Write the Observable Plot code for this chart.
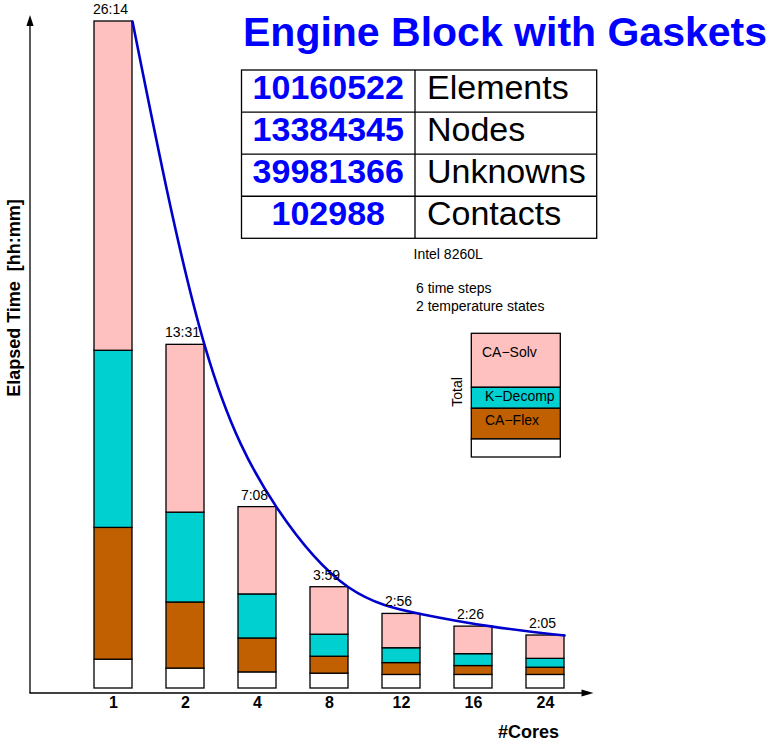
<!DOCTYPE html>
<html>
<head>
<meta charset="utf-8">
<script src="https://cdn.jsdelivr.net/npm/d3@7"></script>
<script src="https://cdn.jsdelivr.net/npm/@observablehq/plot@0.6"></script>
<style>
  html, body { margin: 0; padding: 0; background: #fff; }
  svg text { font-family: "Liberation Sans", Arial, Helvetica, sans-serif; }
</style>
</head>
<body>
<div id="chart"></div>
<script>
// ---------- data ----------
const cores = ["1", "2", "4", "8", "12", "16", "24"];
const totalLabels = ["26:14", "13:31", "7:08", "3:59", "2:56", "2:26", "2:05"];
// minutes per segment
const otherMin  = [68, 47, 38, 35, 32, 32, 32];
const flexMin   = [311, 156, 80, 40, 28, 21, 17];
const decompMin = [418, 212, 104, 52, 35, 28, 21];
const solvMin   = [777, 396, 206, 112, 81, 65, 55];
const parts = ["Other", "CA\u2212Flex", "K\u2212Decomp", "CA\u2212Solv"];
const partColors = ["#ffffff", "#c06000", "#00d0d0", "#ffc0c0"];
const tableNumbers = ["10160522", "13384345", "39981366", "102988"];
const tableNames = ["Elements", "Nodes", "Unknowns", "Contacts"];
const machine = "Intel 8260L";
const notes = ["6 time steps", "2 temperature states"];
const titleText = "Engine Block with Gaskets";
const yLabel = "Elapsed Time  [hh:mm]";
const xLabel = "#Cores";

// ---------- derived tables ----------
const series = [otherMin, flexMin, decompMin, solvMin];
const rows = [];
cores.forEach((c, i) => parts.forEach((p, k) => rows.push({cores: c, part: p, minutes: series[k][i]})));
const totals = cores.map((c, i) => ({
  cores: c,
  total: series.reduce((s, a) => s + a[i], 0),
  label: totalLabels[i]
}));

// ---------- layout ----------
const W = 770, H = 741;
const FONT = '"Liberation Sans", Arial, Helvetica, sans-serif';
const xStart = 75.8, xEnd = 582.7;
const padIn = 0.475;
const step = (xEnd - xStart) / cores.length;
const bw = step * (1 - padIn);

const plot = Plot.plot({
  width: W,
  height: H,
  marginTop: 21,
  marginBottom: 53,
  marginLeft: xStart,
  marginRight: W - xEnd,
  style: {fontFamily: FONT, background: "white", color: "black", overflow: "visible"},
  x: {type: "band", domain: cores, paddingInner: padIn, paddingOuter: padIn / 2, align: 0.5, axis: null},
  y: {domain: [0, 1574], axis: null},
  color: {domain: parts, range: partColors},
  marks: [
    Plot.barY(rows, {x: "cores", y: "minutes", fill: "part", stroke: "black", strokeWidth: 1.3}),
    Plot.line(totals, {x: "cores", y: "total", curve: "natural", stroke: "#0000cc", strokeWidth: 2.6, dx: bw / 2}),
    Plot.text(totals, {x: "cores", y: "total", text: "label", dy: -12, dx: -3, fontSize: 14, fill: "black"}),
    Plot.text(cores, {x: d => d, frameAnchor: "bottom", dy: 19.2, text: d => d, fontSize: 16, fontWeight: "bold", fill: "black"})
  ]
});
document.getElementById("chart").appendChild(plot);

// ---------- decorations ----------
const svg = d3.select(plot);
const g = svg.append("g").attr("font-family", FONT).attr("text-anchor", "start");

// axes with arrows
const axisY = 693, axisX = 30;
g.append("line").attr("x1", axisX).attr("x2", axisX).attr("y1", axisY).attr("y2", 24)
  .attr("stroke", "black").attr("stroke-width", 1.3);
g.append("path").attr("d", `M${axisX},15 L${axisX - 3.6},26 L${axisX + 3.6},26 Z`).attr("fill", "black");
g.append("line").attr("x1", axisX - 0.6).attr("x2", 584).attr("y1", axisY).attr("y2", axisY)
  .attr("stroke", "black").attr("stroke-width", 1.3);
g.append("path").attr("d", `M593.5,${axisY} L581.5,${axisY - 3.6} L581.5,${axisY + 3.6} Z`).attr("fill", "black");

// axis labels
g.append("text").attr("transform", "translate(20,298) rotate(-90)")
  .attr("text-anchor", "middle").attr("font-size", 18).attr("font-weight", "bold").text(yLabel);
g.append("text").attr("x", 528.5).attr("y", 737.5)
  .attr("text-anchor", "middle").attr("font-size", 18).attr("font-weight", "bold").text(xLabel);

// title
g.append("text").attr("x", 243).attr("y", 45.7).attr("font-size", 41).attr("font-weight", "bold")
  .attr("text-anchor", "start").attr("fill", "#0000ff").text(titleText);

// table
const tL = 241.5, tM = 415, tR = 596.7, tT = 70, tB = 238.3;
const rowH = (tB - tT) / tableNumbers.length;
g.append("rect").attr("x", tL).attr("y", tT).attr("width", tR - tL).attr("height", tB - tT)
  .attr("fill", "none").attr("stroke", "black").attr("stroke-width", 1.3);
g.append("line").attr("x1", tM).attr("x2", tM).attr("y1", tT).attr("y2", tB)
  .attr("stroke", "black").attr("stroke-width", 1.3);
tableNumbers.forEach((n, i) => {
  const top = tT + i * rowH;
  if (i > 0) g.append("line").attr("x1", tL).attr("x2", tR).attr("y1", top).attr("y2", top)
    .attr("stroke", "black").attr("stroke-width", 1.3);
  g.append("text").attr("x", (tL + tM) / 2).attr("y", top + 28.5).attr("text-anchor", "middle")
    .attr("font-size", 34).attr("font-weight", "bold").attr("fill", "#0000ff").text(n);
  g.append("text").attr("x", 427).attr("y", top + 28.5).attr("text-anchor", "start")
    .attr("font-size", 34).attr("fill", "black").text(tableNames[i]);
});

// notes
g.append("text").attr("x", 413.5).attr("y", 259.3).attr("font-size", 14).attr("text-anchor", "start").text(machine);
notes.forEach((t, i) => g.append("text").attr("x", 416).attr("y", 293.3 + i * 17.4)
  .attr("font-size", 14).attr("text-anchor", "start").text(t));

// legend box
const lx = 471.3, lw = 89;
const legendSegs = [
  {part: parts[3], top: 333.3, bottom: 387.3, tx: 482, ty: 356.7},
  {part: parts[2], top: 387.3, bottom: 408.3, tx: 485, ty: 401},
  {part: parts[1], top: 408.3, bottom: 439, tx: 485, ty: 425},
  {part: parts[0], top: 439, bottom: 457, tx: null, ty: null}
];
const color = plot.scale("color");
legendSegs.forEach(s => {
  g.append("rect").attr("x", lx).attr("y", s.top).attr("width", lw).attr("height", s.bottom - s.top)
    .attr("fill", color.range[color.domain.indexOf(s.part)]).attr("stroke", "black").attr("stroke-width", 1.3);
  if (s.tx != null) g.append("text").attr("x", s.tx).attr("y", s.ty).attr("font-size", 14)
    .attr("text-anchor", "start").text(s.part);
});
g.append("text").attr("transform", "translate(462,392) rotate(-90)").attr("text-anchor", "middle")
  .attr("font-size", 14).text("Total");
</script>
</body>
</html>
